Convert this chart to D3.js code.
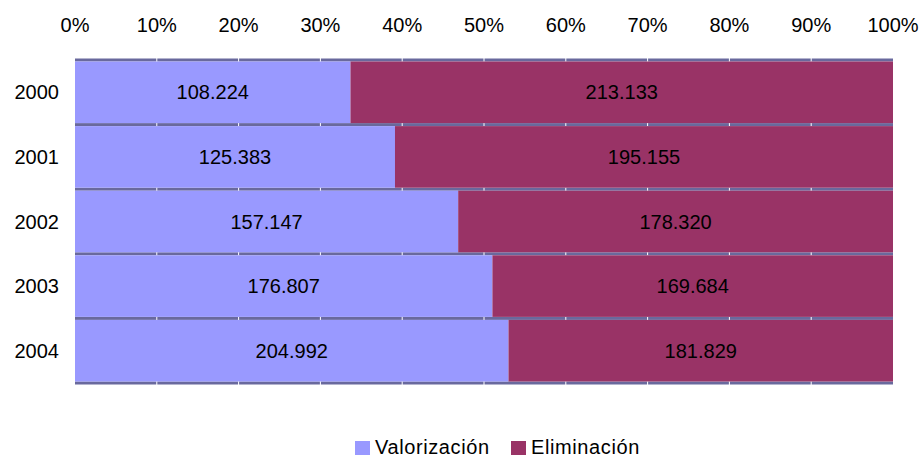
<!DOCTYPE html>
<html>
<head>
<meta charset="utf-8">
<script src="https://cdn.jsdelivr.net/npm/d3@7"></script>
<style>
  body { margin: 0; background: #fff; }
  text { font-family: "Liberation Sans", Arial, sans-serif; fill: #000; }
</style>
</head>
<body>
<div id="chart"></div>
<script>
var years = ["2000", "2001", "2002", "2003", "2004"];
var valorizacion = [108224, 125383, 157147, 176807, 204992];
var eliminacion = [213133, 195155, 178320, 169684, 181829];
var seriesNames = ["Valorización", "Eliminación"];
var colors = ["#9999ff", "#993366"];
var tickValues = [0, 0.1, 0.2, 0.3, 0.4, 0.5, 0.6, 0.7, 0.8, 0.9, 1];

var width = 922, height = 457;
var plotLeft = 75, plotRight = 893, plotTop = 60, plotBottom = 383;

var svg = d3.select("#chart").append("svg")
    .attr("width", width)
    .attr("height", height);

var x = d3.scaleLinear().domain([0, 1]).range([plotLeft, plotRight]);
var y = d3.scaleBand().domain(years).range([plotTop, plotBottom]).paddingInner(0);

var fmt = function(v) { return d3.format(",")(v).replace(/,/g, "."); };

// rows built from the arrays
var rows = years.map(function(yr, i) {
    var total = valorizacion[i] + eliminacion[i];
    return {
        year: yr,
        segs: [
            {s: 0, year: yr, v: valorizacion[i], x0: 0, x1: valorizacion[i] / total},
            {s: 1, year: yr, v: eliminacion[i], x0: valorizacion[i] / total, x1: 1}
        ]
    };
});

// grey separators between bars
var gap = 3;
years.concat(["end"]).forEach(function(yr) {
    var yy = yr === "end" ? plotBottom : y(yr);
    svg.append("rect")
        .attr("x", plotLeft).attr("y", yy - gap / 2)
        .attr("width", plotRight - plotLeft).attr("height", gap)
        .attr("fill", "#69699d");
});

// white gridlines (show only in the gaps)
svg.selectAll(".grid").data(tickValues.slice(1, -1)).enter().append("line")
    .attr("x1", function(d) { return x(d); })
    .attr("x2", function(d) { return x(d); })
    .attr("y1", plotTop - 2).attr("y2", plotBottom + 2)
    .attr("stroke", "#ffffff").attr("stroke-width", 1);

var g = svg.selectAll(".row").data(rows).enter().append("g");

g.selectAll("rect").data(function(d) { return d.segs; })
    .enter().append("rect")
    .attr("x", function(d) { return x(d.x0); })
    .attr("width", function(d) { return x(d.x1) - x(d.x0); })
    .attr("y", function(d) { return y(d.year) + gap / 2; })
    .attr("height", y.bandwidth() - gap)
    .attr("fill", function(d) { return colors[d.s]; });

g.selectAll("text.val").data(function(d) { return d.segs; })
    .enter().append("text")
    .attr("x", function(d) { return (x(d.x0) + x(d.x1)) / 2; })
    .attr("y", function(d) { return y(d.year) + y.bandwidth() / 2; })
    .attr("dy", "0.35em")
    .attr("text-anchor", "middle")
    .attr("font-size", "20px")
    .text(function(d) { return fmt(d.v); });

// year labels
svg.selectAll(".ylab").data(years).enter().append("text")
    .attr("x", 59)
    .attr("y", function(d) { return y(d) + y.bandwidth() / 2; })
    .attr("dy", "0.35em")
    .attr("text-anchor", "end")
    .attr("font-size", "20px")
    .text(function(d) { return d; });

// top axis labels
svg.selectAll(".xlab").data(tickValues).enter().append("text")
    .attr("x", function(d) { return x(d); })
    .attr("y", 32)
    .attr("text-anchor", "middle")
    .attr("font-size", "20px")
    .text(function(d) { return Math.round(d * 100) + "%"; });

// legend
var legendX = [355, 511];
seriesNames.forEach(function(name, i) {
    svg.append("rect")
        .attr("x", legendX[i]).attr("y", 441)
        .attr("width", 15).attr("height", 14)
        .attr("fill", colors[i]);
    svg.append("text")
        .attr("x", legendX[i] + 20).attr("y", 454)
        .attr("font-size", "20px")
        .attr("letter-spacing", "0.6px")
        .text(name);
});
</script>
</body>
</html>
